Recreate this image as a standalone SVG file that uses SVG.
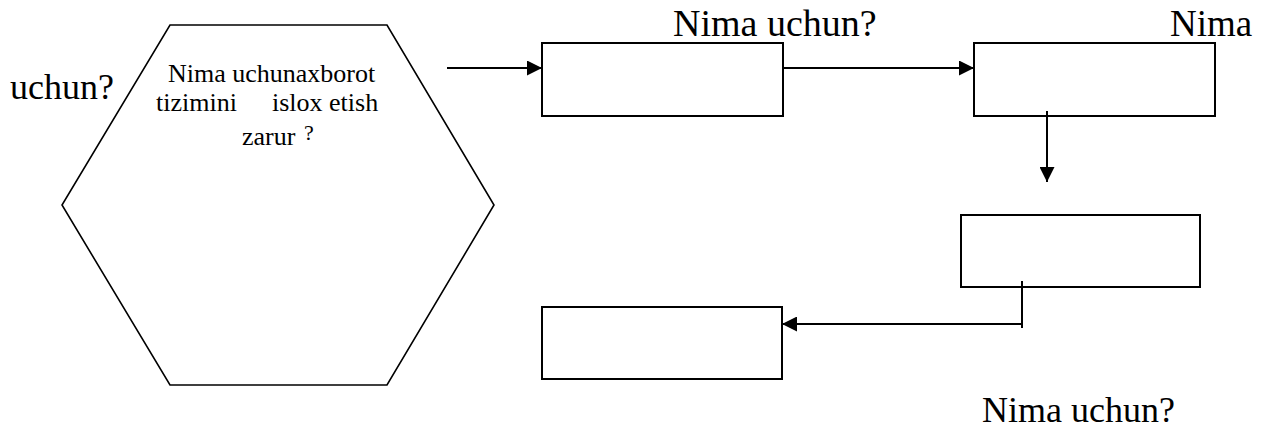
<svg xmlns="http://www.w3.org/2000/svg" width="1265" height="428" viewBox="0 0 1265 428">
<style>
.box{fill:#fff;stroke:#000;stroke-width:2}
.hex{fill:#fff;stroke:#000;stroke-width:1.6}
.ln{fill:none;stroke:#000;stroke-width:2}
.big{font-family:"Liberation Serif","Times New Roman",serif;font-size:36px;fill:#000}
.sm{font-family:"Liberation Serif","Times New Roman",serif;font-size:26px;fill:#000}
</style>
<defs>
<marker id="arr" markerWidth="15" markerHeight="15" refX="15" refY="7.5" orient="auto" markerUnits="userSpaceOnUse">
<path d="M0,0 L15,7.5 L0,15 Z" fill="#000"/>
</marker>
</defs>
<g id="hexagon">
<polygon class="hex" points="170,25 387,25 494,205 387,385 170,385 62,205"/>
<text class="sm" x="168" y="82">Nima uchunaxborot</text>
<text class="sm" x="156" y="111">tizimini</text>
<text class="sm" x="272" y="111">islox etish</text>
<text class="sm" x="242" y="145">zarur</text>
<text class="sm" x="304" y="140" style="font-size:22px">?</text>
</g>
<g id="box1"><rect class="box" x="542" y="43" width="241" height="73"/></g>
<g id="box2"><rect class="box" x="974" y="43" width="241" height="73"/></g>
<g id="box3"><rect class="box" x="961" y="215" width="239" height="72"/></g>
<g id="box4"><rect class="box" x="542" y="307" width="240" height="72"/></g>
<g id="connectors">
<line class="ln" x1="447" y1="68" x2="542" y2="68" marker-end="url(#arr)"/>
<line class="ln" x1="783" y1="68" x2="974" y2="68" marker-end="url(#arr)"/>
<line class="ln" x1="1047" y1="111" x2="1047" y2="182" marker-end="url(#arr)"/>
<line class="ln" x1="1022" y1="281" x2="1022" y2="328"/>
<line class="ln" x1="1022" y1="324" x2="782" y2="324" marker-end="url(#arr)"/>
</g>
<g id="labels">
<text class="big" x="10" y="99">uchun?</text>
<text class="big" x="673" y="36" style="font-size:38px">Nima uchun?</text>
<text class="big" x="1170" y="36" style="font-size:37px">Nima</text>
<text class="big" x="982" y="422">Nima uchun?</text>
</g>
</svg>
